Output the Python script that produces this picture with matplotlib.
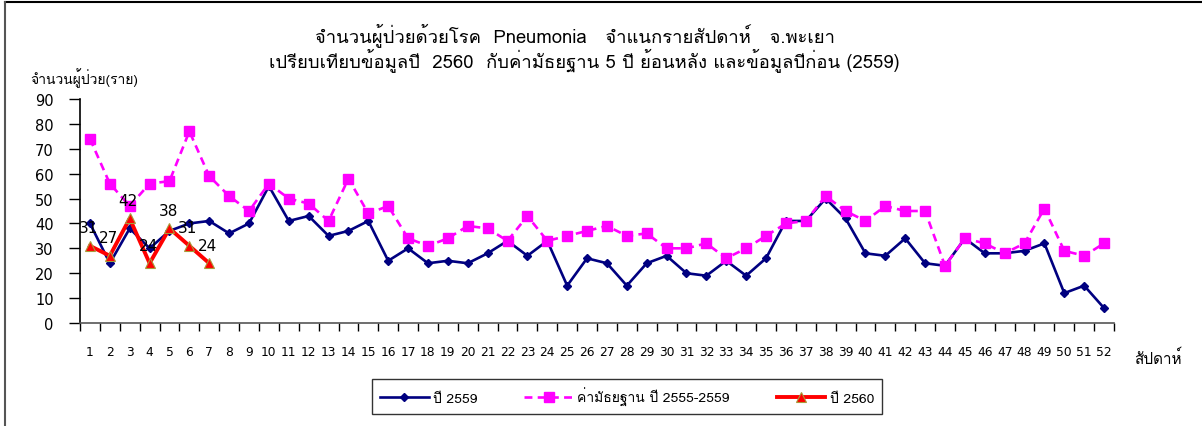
import matplotlib
matplotlib.use('Agg')
import matplotlib.pyplot as plt
from matplotlib.lines import Line2D

plt.rcParams['font.family'] = ['Loma', 'DejaVu Sans']

# weeks 1-52
weeks = list(range(1, 53))

# number of cases, year 2559
cases_2559 = [40, 24, 38, 30, 37, 40, 41, 36, 40, 55, 41, 43, 35, 37, 41, 25,
              30, 24, 25, 24, 28, 33, 27, 33, 15, 26, 24, 15, 24, 27, 20, 19,
              25, 19, 26, 41, 41, 50, 42, 28, 27, 34, 24, 23, 34, 28, 28, 29,
              32, 12, 15, 6]

# median 5 years (2555-2559)
median_5y = [74, 56, 47, 56, 57, 77, 59, 51, 45, 56, 50, 48, 41, 58, 44, 47,
             34, 31, 34, 39, 38, 33, 43, 33, 35, 37, 39, 35, 36, 30, 30, 32,
             26, 30, 35, 40, 41, 51, 45, 41, 47, 45, 45, 23, 34, 32, 28, 32,
             46, 29, 27, 32]

# year 2560 (so far)
weeks_2560 = [1, 2, 3, 4, 5, 6, 7]
cases_2560 = [31, 27, 42, 24, 38, 31, 24]

title1 = "จำนวนผู้ป่วยด้วยโรค  Pneumonia   จำแนกรายสัปดาห์   จ.พะเยา"
title2 = "เปรียบเทียบข้อมูลปี  2560  กับค่ามัธยฐาน 5 ปี ย้อนหลัง และข้อมูลปีก่อน (2559)"

W, H = 1202, 427
fig = plt.figure(figsize=(W / 100, H / 100), dpi=100)
ax = fig.add_axes([80 / W, 1 - 324 / H, (1114 - 80) / W, (324 - 100) / H])

ax.plot(weeks, cases_2559, color='#000080', lw=1.9, marker='D', ms=3.8,
        label='ปี 2559', zorder=3)
ax.plot(weeks, median_5y, color='#FF00FF', lw=1.9, ls=(0, (3, 2)), marker='s',
        ms=6.5, label='ค่ามัธยฐาน ปี 2555-2559', zorder=4)
ax.plot(weeks_2560, cases_2560, color='#FF0000', lw=2.8, marker='^', ms=7.5,
        mec='#a89a3a', mew=0.8, label='ปี 2560', zorder=5)

for x, y in zip(weeks_2560, cases_2560):
    ax.annotate(str(y), (x, y), xytext=(-1, 13), textcoords='offset points',
                ha='center', va='center', fontsize=11, color='black',
                family='DejaVu Sans', zorder=6)

ax.set_xlim(0.5, 52.5)
ax.set_ylim(0, 90)
ax.set_yticks(range(0, 91, 10))
ax.set_xticks(weeks)
ax.set_xticks([w + 0.5 for w in range(0, 53)], minor=True)
ax.tick_params(axis='x', which='major', length=0, pad=16, labelsize=8.8)
ax.tick_params(axis='x', which='minor', length=6, width=1, color='black')
ax.tick_params(axis='y', length=8, width=1, pad=11, labelsize=10.5)
for lbl in ax.get_xticklabels() + ax.get_yticklabels():
    lbl.set_family('DejaVu Sans')

for s in ['top', 'right']:
    ax.spines[s].set_visible(False)
ax.spines['left'].set_linewidth(1.2)
ax.spines['bottom'].set_linewidth(1.2)
ax.spines['bottom'].set_color('#555555')

fig.text(575 / W, 1 - 35 / H, title1, ha='center', va='center', fontsize=13.3)
fig.text(584 / W, 1 - 60 / H, title2, ha='center', va='center', fontsize=13.3)
fig.text(30 / W, 1 - 78 / H, "จำนวนผู้ป่วย(ราย)", ha='left', va='center',
         fontsize=10)
fig.text(1134 / W, 1 - 358 / H, "สัปดาห์", ha='left', va='center', fontsize=11)

leg = fig.legend(loc='center', bbox_to_anchor=(627 / W, 1 - 397.5 / H), ncol=3,
                 frameon=True, fancybox=False, edgecolor='black',
                 fontsize=10, handlelength=3.5, columnspacing=3.4,
                 borderpad=0.6, handletextpad=0.3)
leg.get_frame().set_linewidth(1)

# outer frame (top and left only)
fig.add_artist(Line2D([5 / W, 1], [1 - 3 / H, 1 - 3 / H], color='black', lw=1.5))
fig.add_artist(Line2D([5 / W, 5 / W], [0, 1 - 3 / H], color='#555555', lw=1.5))

fig.savefig("out.png", dpi=100)
